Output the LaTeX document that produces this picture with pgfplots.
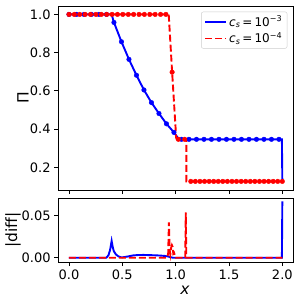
\documentclass[border=0pt]{standalone}
\usepackage{fontspec}
\setmainfont{DejaVu Sans}
\usepackage{pgfplots}
\pgfplotsset{compat=1.18}
\definecolor{mblue}{RGB}{0,0,255}
\definecolor{mred}{RGB}{255,0,0}
\pgfplotsset{
  common/.style={
    scale only axis, width=234.7pt,
    xmin=-0.1, xmax=2.1,
    xtick={0,0.5,1,1.5,2},
    tick align=outside, tick pos=left,
    major tick length=4.2pt,
    axis line style={line width=0.9pt},
    every tick/.style={black, line width=0.9pt},
    /pgf/number format/assume math mode=true,
    tick label style={font=\fontsize{13}{15}\selectfont},
    label style={font=\fontsize{15.5}{18}\selectfont},
    x tick label style={/pgf/number format/fixed, /pgf/number format/fixed zerofill, /pgf/number format/precision=1},
  },
  bl/.style={color=mblue, line width=1.9pt, no marks},
  rl/.style={color=mred, line width=1.9pt, no marks, dash pattern=on 7pt off 3pt},
  bm/.style={only marks, mark=*, mark size=2.3pt, color=mblue, forget plot},
  rm/.style={only marks, mark=*, mark size=2.3pt, color=mred, forget plot},
}
\begin{document}
\begin{tikzpicture}
\path[use as bounding box] (0pt,0pt) rectangle (300pt,300pt);
\begin{axis}[common, at={(58.3pt,110pt)}, anchor=south west, height=184pt,
  ymin=0.082, ymax=1.044, ytick={0.2,0.4,0.6,0.8,1.0},
  xticklabels={},
  y tick label style={/pgf/number format/fixed, /pgf/number format/fixed zerofill, /pgf/number format/precision=1},
  ylabel={Π},
  ylabel style={at={(axis description cs:-0.15,0.5)}, anchor=center},
  legend cell align=left,
  legend style={at={(rel axis cs:1,1)}, anchor=north east, xshift=-5.7pt, yshift=-5.7pt,
    draw=black!20, rounded corners=2pt, font=\fontsize{12}{14}\selectfont, row sep=1pt},
  legend image code/.code={\draw[#1] (0pt,0pt) -- (21pt,0pt);},
]
\addplot[bl] coordinates {(0,1) (0.40,1) (0.4218,0.958) (0.4921,0.857) (0.5624,0.765) (0.6327,0.682) (0.703,0.605) (0.7733,0.539) (0.8436,0.482) (0.9139,0.428) (0.9842,0.383) (1.02,0.355) (1.05,0.347) (1.996,0.347) (2.0,0.127)};
\addlegendentry{{\itshape c}\textsubscript{\itshape s}\,=\,10\textsuperscript{−3}}
\addplot[bm] coordinates {(0,1) (0.0703,1) (0.1406,1) (0.2109,1) (0.2812,1) (0.3515,1) (0.4218,0.958) (0.4921,0.857) (0.5624,0.765) (0.6327,0.682) (0.703,0.605) (0.7733,0.539) (0.8436,0.482) (0.9139,0.428) (0.9842,0.383) (1.0545,0.347) (1.1248,0.347) (1.1951,0.347) (1.2654,0.347) (1.3357,0.347) (1.406,0.347) (1.4763,0.347) (1.5466,0.347) (1.6169,0.347) (1.6872,0.347) (1.7575,0.347) (1.8278,0.347) (1.8981,0.347) (1.9684,0.347)};
\addplot[rl] coordinates {(0,1) (0.935,1) (0.967,0.698) (1.005,0.355) (1.012,0.347) (1.10,0.347) (1.10,0.127) (2.0,0.127)};
\addlegendentry{{\itshape c}\textsubscript{\itshape s}\,=\,10\textsuperscript{−4}}
\addplot[rm] coordinates {(0,1) (0.0505,1) (0.101,1) (0.1515,1) (0.202,1) (0.2525,1) (0.303,1) (0.3535,1) (0.404,1) (0.4545,1) (0.505,1) (0.5555,1) (0.606,1) (0.6565,1) (0.707,1) (0.7575,1) (0.808,1) (0.8585,1) (0.909,1) (0.967,0.698) (1.025,0.347) (1.085,0.347) (1.142,0.127) (1.1849,0.127) (1.2278,0.127) (1.2707,0.127) (1.3136,0.127) (1.3565,0.127) (1.3994,0.127) (1.4423,0.127) (1.4852,0.127) (1.5281,0.127) (1.571,0.127) (1.6139,0.127) (1.6568,0.127) (1.6997,0.127) (1.7426,0.127) (1.7855,0.127) (1.8284,0.127) (1.8713,0.127) (1.9142,0.127) (1.9571,0.127) (2.0,0.127)};
\end{axis}
\begin{axis}[common, at={(58.3pt,38pt)}, anchor=south west, height=63.7pt,
  ymin=-0.005, ymax=0.0707, ytick={0,0.05},
  scaled y ticks=false,
  y tick label style={/pgf/number format/fixed, /pgf/number format/fixed zerofill, /pgf/number format/precision=2},
  xlabel={\itshape x},
  xlabel style={at={(axis description cs:0.54,0)}, anchor=center, yshift=-28pt},
  ylabel={|diff|},
  ylabel style={at={(axis description cs:-0.193,0.5)}, anchor=center},
]
\addplot[bl] coordinates {(0,0) (0.35,0) (0.37,0.003) (0.385,0.009) (0.40,0.020) (0.41,0.013) (0.42,0.008) (0.44,0.004) (0.46,0.002) (0.48,0.0008) (0.50,0.0005) (0.55,0.0015) (0.60,0.0028) (0.65,0.0033) (0.70,0.0034) (0.75,0.0032) (0.80,0.003) (0.85,0.0027) (0.90,0.0022) (0.93,0.0015) (0.96,0.0005) (0.98,0) (1.996,0) (2.0,0.067)};
\addplot[rl] coordinates {(0,0) (0.92,0) (0.93,0.005) (0.937,0.042) (0.943,0.01) (0.95,0.004) (0.958,0.012) (0.965,0.015) (0.972,0.013) (0.978,0.005) (0.985,0.006) (0.992,0.003) (1.0,0) (1.09,0) (1.095,0.054) (1.10,0) (2.0,0)};
\end{axis}
\end{tikzpicture}
\end{document}
